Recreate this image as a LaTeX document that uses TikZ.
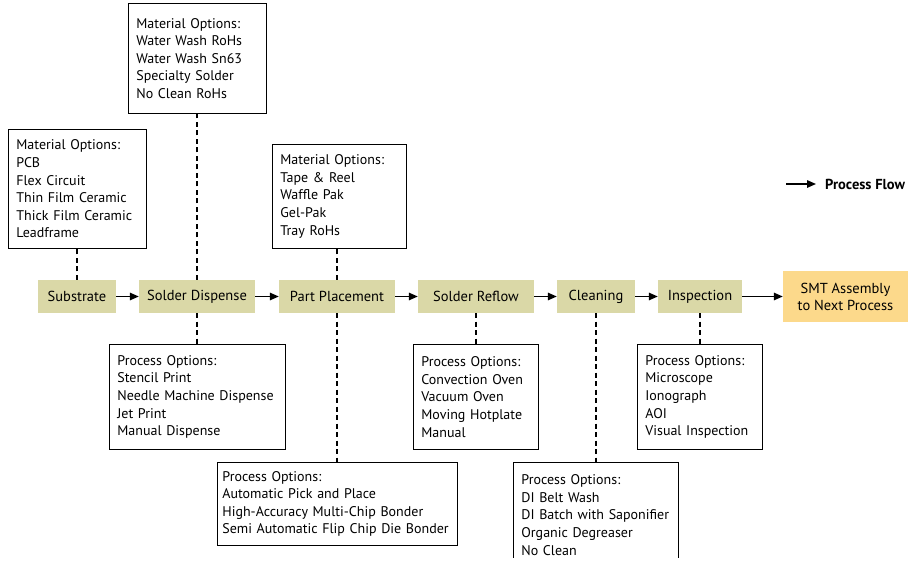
\documentclass[tikz,border=0pt]{standalone}
\usepackage{fontspec}
\setmainfont{PT Sans}
\usetikzlibrary{arrows.meta}
\hyphenpenalty=10000
\definecolor{procfill}{HTML}{DAD8A7}
\definecolor{smtfill}{HTML}{FCD98B}
\tikzset{
  procbox/.style={fill=procfill, draw=none, minimum height=33pt, inner sep=0pt, font=\fontsize{14.5}{16}\selectfont},
  optbox/.style={draw=black, line width=0.8pt, align=left, inner xsep=8pt, inner ysep=0pt, font=\fontsize{14}{17.6}\selectfont, anchor=north west},
  flow/.style={line width=1.5pt, -{Triangle[length=9pt,width=7.5pt]}},
  link/.style={line width=1.4pt, dash pattern=on 5pt off 3.5pt}
}
\begin{document}
\begin{tikzpicture}[x=1pt,y=-1pt]
\useasboundingbox (0,0) rectangle (908,565);
% process row
\node[procbox, minimum width=78pt] (sub) at (77,296.5) {Substrate};
\node[procbox, minimum width=116pt] (sd) at (197,296.5) {Solder Dispense};
\node[procbox, minimum width=116pt] (pp) at (337,296.5) {Part Placement};
\node[procbox, minimum width=116pt] (sr) at (476,296.5) {Solder Reflow};
\node[procbox, minimum width=78pt] (cl) at (596,296.5) {Cleaning};
\node[procbox, minimum width=84pt] (in) at (700,296.5) {Inspection};
\node[procbox, fill=smtfill, minimum width=125pt, minimum height=51pt, align=center, font=\fontsize{14.5}{17}\selectfont] (smt) at (845.5,296.5) {SMT Assembly\\to Next Process};
\draw[flow] (sub) -- (sd);
\draw[flow] (sd) -- (pp);
\draw[flow] (pp) -- (sr);
\draw[flow] (sr) -- (cl);
\draw[flow] (cl) -- (in);
\draw[flow] (in) -- (smt);
% material options
\node[optbox, text width=122pt, minimum height=119pt] (m1) at (8,129) {Material Options:\\PCB\\Flex Circuit\\Thin Film Ceramic\\Thick Film Ceramic\\Leadframe};
\node[optbox, text width=122pt, minimum height=110pt] (m2) at (128,3) {Material Options:\\Water Wash RoHs\\Water Wash Sn63\\Specialty Solder\\No Clean RoHs};
\node[optbox, text width=118pt, minimum height=104pt] (m3) at (272,144) {Material Options:\\Tape \& Reel\\Waffle Pak\\Gel-Pak\\Tray RoHs};
% process options
\node[optbox, text width=160pt, minimum height=105pt] (p2) at (109,344) {Process Options:\\Stencil Print\\Needle Machine Dispense\\Jet Print\\Manual Dispense};
\node[optbox, inner xsep=5pt, text width=230pt, minimum height=83pt] (p3) at (217,462) {Process Options:\\Automatic Pick and Place\\High-Accuracy Multi-Chip Bonder\\Semi Automatic Flip Chip Die Bonder};
\node[optbox, text width=109pt, minimum height=105pt] (p4) at (413,344) {Process Options:\\Convection Oven\\Vacuum Oven\\Moving Hotplate\\Manual};
\node[optbox, draw=none, text width=149pt, minimum height=105pt] (p5) at (513,462) {Process Options:\\DI Belt Wash\\DI Batch with Saponifier\\Organic Degreaser\\No Clean};
\draw[line width=0.8pt] ([yshift=10pt]p5.south west) -- (p5.north west) -- (p5.north east) -- ([yshift=10pt]p5.south east);
\node[optbox, text width=109pt, minimum height=105pt] (p6) at (637,344) {Process Options:\\Microscope\\Ionograph\\AOI\\Visual Inspection};
% dashed links
\draw[link] (sub.north) -- (sub.north |- m1.south);
\draw[link] (sd.north) -- (sd.north |- m2.south);
\draw[link] (pp.north) -- (pp.north |- m3.south);
\draw[link] (sd.south) -- (sd.south |- p2.north);
\draw[link] (pp.south) -- (pp.south |- p3.north);
\draw[link] (sr.south) -- (sr.south |- p4.north);
\draw[link] (cl.south) -- (cl.south |- p5.north);
\draw[link] (in.south) -- (in.south |- p6.north);
% legend
\node[anchor=west, inner sep=0pt, font=\bfseries\fontsize{14.5}{16}\selectfont] (pf) at (825,184) {Process Flow};
\coordinate (pfs) at (786,184);
\draw[flow] (pfs) -- ([xshift=-9pt]pf.west);
\end{tikzpicture}
\end{document}
